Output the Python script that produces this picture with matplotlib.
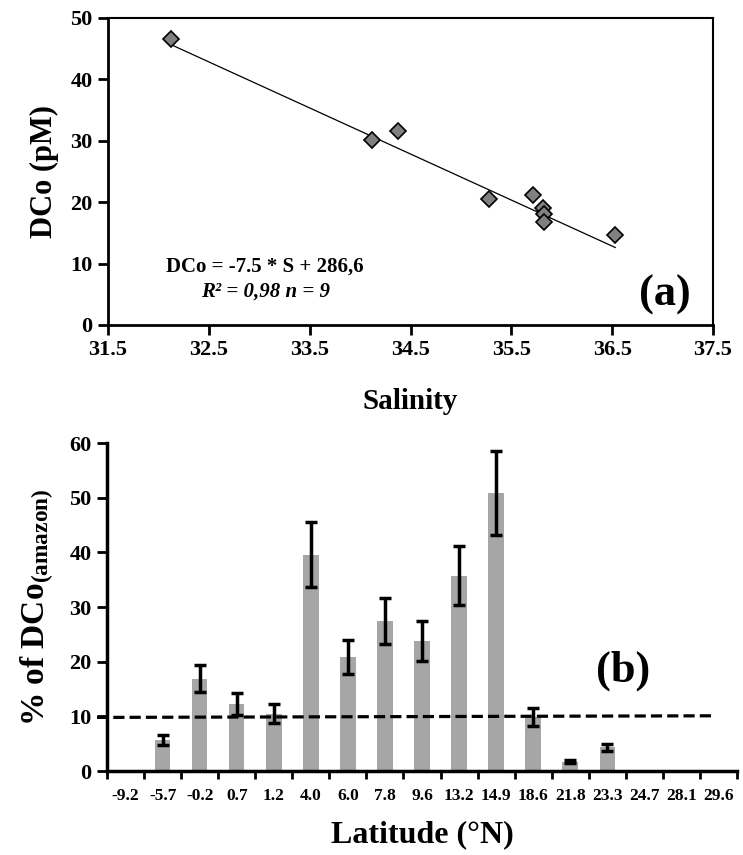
import matplotlib
matplotlib.use("Agg")
import matplotlib.pyplot as plt
import numpy as np

plt.rcParams['font.family'] = ['Liberation Serif', 'DejaVu Serif']
plt.rcParams['font.weight'] = 'bold'
plt.rcParams['mathtext.fontset'] = 'custom'
plt.rcParams['mathtext.rm'] = 'Liberation Serif:bold'
plt.rcParams['mathtext.bf'] = 'Liberation Serif:bold'
plt.rcParams['mathtext.it'] = 'Liberation Serif:bold:italic'

# ---- panel (a) data ----
salinity = [32.12, 34.12, 34.38, 35.28, 35.71, 35.81, 35.82, 35.82, 36.53]
dco = [46.5, 30.1, 31.6, 20.5, 21.2, 19.0, 18.1, 16.8, 14.7]
fit_slope = -7.5
fit_intercept = 286.6
sal_ticks = [31.5, 32.5, 33.5, 34.5, 35.5, 36.5, 37.5]

# ---- panel (b) data ----
latitudes = ["-9.2", "-5.7", "-0.2", "0.7", "1.2", "4.0", "6.0", "7.8", "9.6",
             "13.2", "14.9", "18.6", "21.8", "23.3", "24.7", "28.1", "29.6"]
pct_amazon = [0, 5.6, 16.9, 12.2, 10.5, 39.6, 20.8, 27.5, 23.8,
              35.7, 50.9, 9.9, 1.7, 4.3, 0, 0, 0]
pct_err = [0, 0.9, 2.5, 2.0, 1.7, 6.0, 3.1, 4.2, 3.6,
           5.4, 7.7, 1.6, 0.3, 0.7, 0, 0, 0]
has_value = [False, True, True, True, True, True, True, True, True,
             True, True, True, True, True, False, False, False]
threshold_line = [9.8, 10.1]

fig = plt.figure(figsize=(7.43, 8.55), dpi=100)

# ---------------- panel (a) ----------------
ax1 = fig.add_axes([108/743, 1-325/855, (713-108)/743, (325-18)/855])
ax1.plot(salinity, dco, linestyle='none', marker='D', markersize=8,
         markerfacecolor='#808080', markeredgecolor='black', markeredgewidth=1.2, zorder=3)
xs = np.array([min(salinity), max(salinity)])
ax1.plot(xs, fit_slope*xs + fit_intercept, color='black', lw=0.9, zorder=2)
ax1.set_xlim(31.5, 37.5)
ax1.set_ylim(0, 50)
ax1.set_xticks(sal_ticks)
ax1.set_xticklabels([f"{t:.1f}" for t in sal_ticks])
ax1.set_yticks(range(0, 51, 10))
for s in ax1.spines.values():
    s.set_linewidth(1.5)
ax1.spines['left'].set_linewidth(2)
ax1.spines['bottom'].set_linewidth(2)
ax1.tick_params(axis='both', direction='out', length=7, width=2, labelsize=16, pad=4)
ax1.set_ylabel("DCo (pM)", fontsize=22, fontweight='bold', labelpad=8)
ax1.set_xlabel("Salinity", fontsize=21, fontweight='bold', labelpad=20)
ax1.text(0.26, 0.19, "DCo = -7.5 * S + 286,6", transform=ax1.transAxes,
         ha='center', va='center', fontsize=15, fontweight='bold')
ax1.text(0.26, 0.108, "R² = 0,98 n = 9", transform=ax1.transAxes,
         ha='center', va='center', fontsize=15, fontweight='bold', style='italic')
ax1.text(0.92, 0.10, "(a)", transform=ax1.transAxes,
         ha='center', va='center', fontsize=32, fontweight='bold')

# ---------------- panel (b) ----------------
ax2 = fig.add_axes([107/743, 1-771/855, (737-107)/743, (771-443)/855])
x = np.arange(len(latitudes))
vals = np.array(pct_amazon, dtype=float)
errs = np.array(pct_err, dtype=float)
mask = np.array(has_value)
ax2.bar(x[mask], vals[mask], width=0.42, color='#a6a6a6', zorder=1)
ax2.errorbar(x[mask], vals[mask], yerr=errs[mask], fmt='none', ecolor='black',
             elinewidth=2.5, capsize=4, capthick=2.5, zorder=3)
ax2.plot([-0.77, 15.85], threshold_line, color='black', lw=2.3,
         dashes=(3.5, 1.6), clip_on=False, zorder=4)
ax2.set_xlim(-0.5, len(latitudes) - 0.5)
ax2.set_ylim(0, 60)
ax2.set_yticks(range(0, 61, 10))
ax2.set_xticks(x)
ax2.set_xticklabels(latitudes)
ax2.set_xticks(np.arange(-0.5, len(latitudes), 1), minor=True)
ax2.spines['top'].set_visible(False)
ax2.spines['right'].set_visible(False)
ax2.spines['left'].set_linewidth(2.5)
ax2.spines['bottom'].set_linewidth(2.5)
ax2.tick_params(axis='y', direction='out', length=7, width=2, labelsize=16, pad=4)
ax2.tick_params(axis='x', which='major', length=0, labelsize=12.5, pad=12)
ax2.tick_params(axis='x', which='minor', direction='out', length=6, width=2)
ax2.set_ylabel("% of DCo$_{\\mathrm{(amazon)}}$", fontsize=24, fontweight='bold', labelpad=10)
ax2.set_xlabel("Latitude (°N)", fontsize=23, fontweight='bold', labelpad=12)
ax2.text(0.82, 0.305, "(b)", transform=ax2.transAxes,
         ha='center', va='center', fontsize=32, fontweight='bold')

fig.savefig("out.png", dpi=100)
